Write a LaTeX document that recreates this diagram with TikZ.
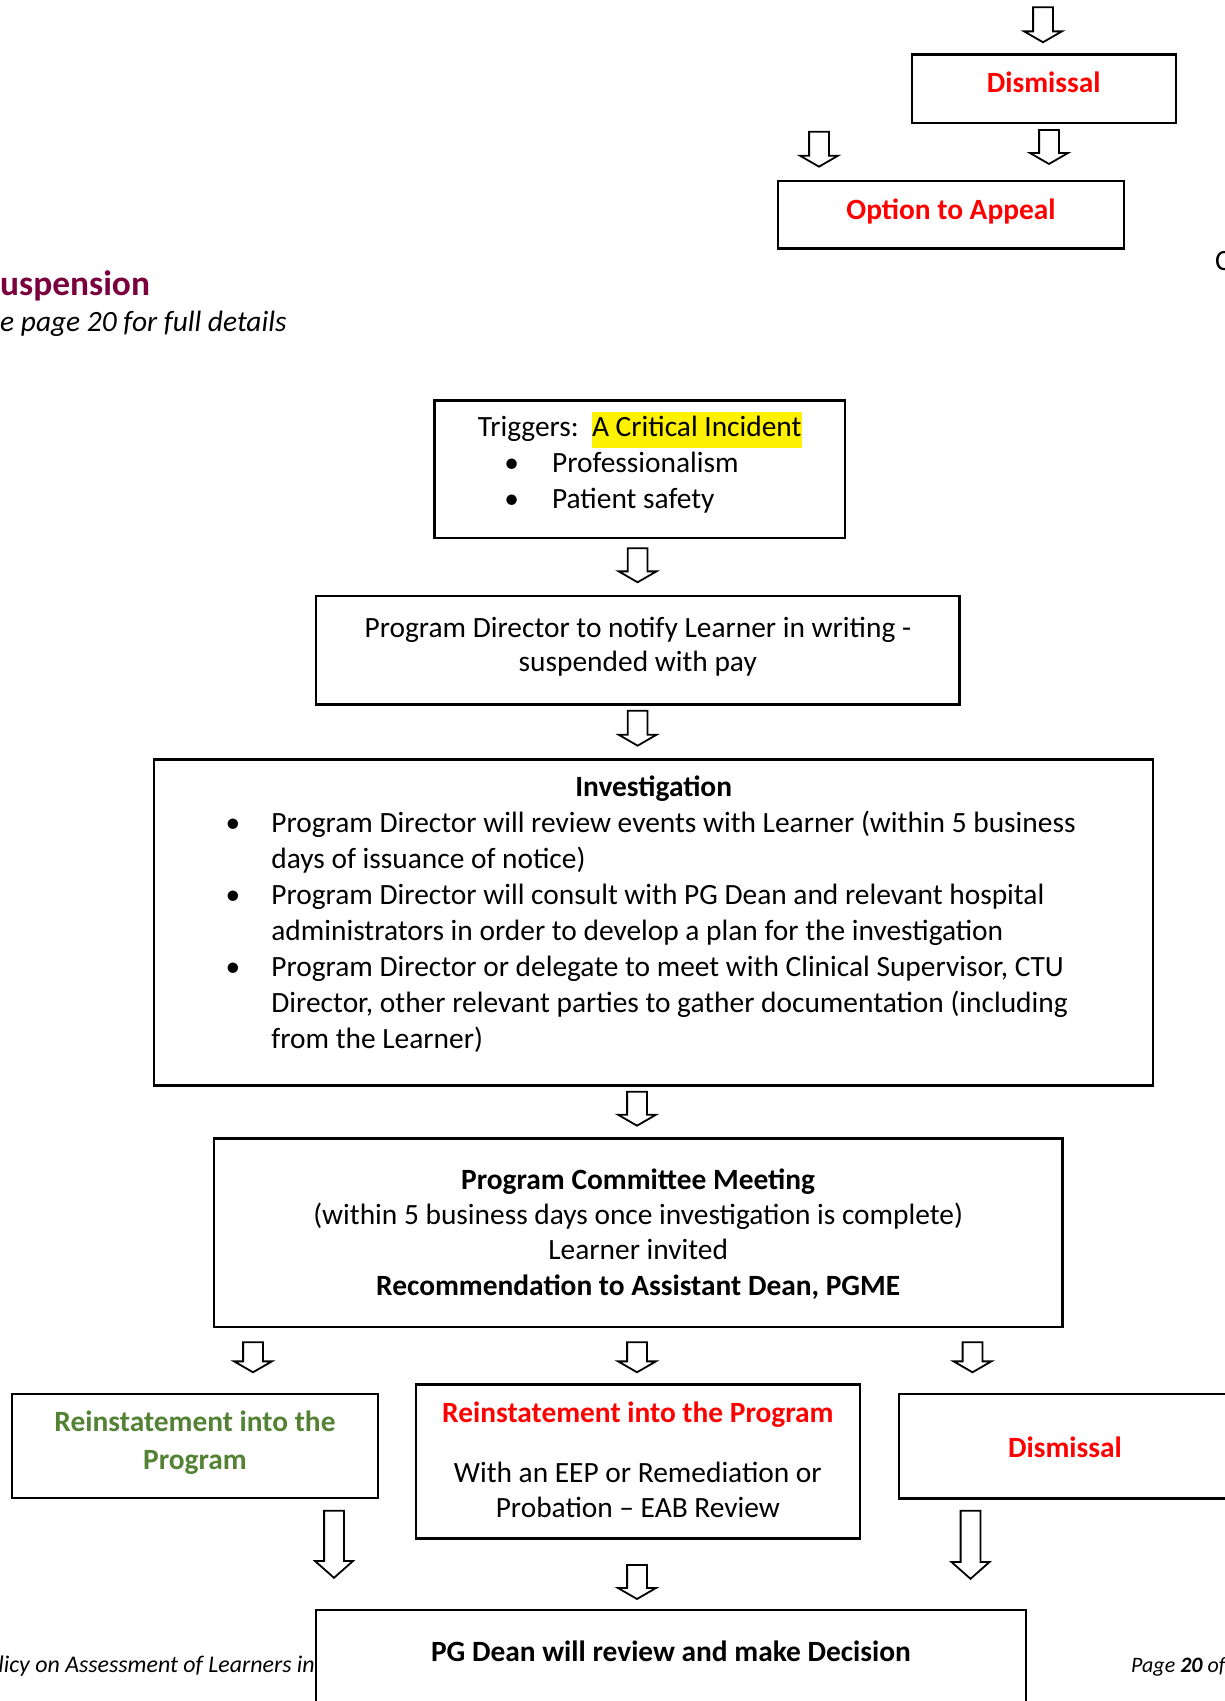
\documentclass[tikz,border=0pt]{standalone}
\usepackage{fontspec}
\setmainfont{Carlito}
\usepackage{tikz}
\usetikzlibrary{shapes.arrows}
\definecolor{alertred}{RGB}{255,0,0}
\definecolor{headmaroon}{RGB}{122,0,61}
\definecolor{keepgreen}{RGB}{84,130,53}
\setlength{\fboxsep}{0pt}

\begin{document}
\fontsize{29.4}{36}\selectfont
\begin{tikzpicture}[x=1pt,y=-1pt,
    box/.style={draw=black,line width=2.2pt,rectangle,inner sep=0pt},
    blockarrow/.style={draw=black,line width=1.8pt,single arrow,rotate=-90,anchor=tip,
      inner xsep=0pt,inner ysep=9pt,single arrow head extend=9pt,single arrow tip angle=120},
    longarrow/.style={blockarrow,single arrow tip angle=97},
    loose/.style={anchor=base west,inner sep=0pt}]
  \useasboundingbox (0,0) rectangle (1225,1701);

  \node[blockarrow,minimum height=35pt] (a0) at (1043,43.3) {};
  \node[box,anchor=north,text width=264pt,align=flush center,text height=38.4pt,text depth=30.3pt,
    text=alertred,font=\bfseries] (dis1) at (1043.7,53.3) {Dismissal};
  \node[blockarrow,minimum height=35pt] (a1) at (819,167.7) {};
  \node[blockarrow,minimum height=34pt] (a2) at (1049,165) {};
  \node[box,anchor=north,text width=346pt,align=flush center,text height=38.3pt,text depth=29pt,
    text=alertred,font=\bfseries] (appeal) at (951,180) {Option to Appeal};

  \node[loose,text=headmaroon,font=\fontsize{35.4}{41}\selectfont\bfseries] (title) at (0,295) {uspension};
  \node[loose,font=\itshape] (subtitle) at (0,331.5) {e page 20 for full details};
  \node[loose] (edge) at (1215,270) {C};

  \node[box,anchor=north west,text width=410.7pt,align=flush left,text height=36.4pt,text depth=101pt]
    (triggers) at (433.3,399.3) {%
    \hspace*{43.4pt}Triggers:\ \ \colorbox{yellow}{\strut A Critical Incident}\\
    \hspace*{70pt}\makebox[47.7pt][l]{\textbullet}Professionalism\\
    \hspace*{70pt}\makebox[47.7pt][l]{\textbullet}Patient safety};
  \node[blockarrow,minimum height=34pt] (a3) at (637.6,583.3) {};
  \node[box,anchor=north,text width=643.2pt,align=flush center,text height=41.7pt,text depth=66.6pt]
    (notify) at (637.8,595) {Program Director to notify Learner in writing -\\[-2pt]suspended with pay};
  \node[blockarrow,minimum height=35pt] (a4) at (637.6,746.7) {};

  \node[box,anchor=north west,text width=999.2pt,align=flush left,text height=36.7pt,text depth=289.3pt]
    (investigation) at (153,758.3) {%
    \hfill\textbf{Investigation}\hfill\null\\
    \hspace*{71.5pt}\makebox[45.8pt][l]{\textbullet}Program Director will review events with Learner (within 5 business\\
    \hspace*{117.3pt}days of issuance of notice)\\
    \hspace*{71.5pt}\makebox[45.8pt][l]{\textbullet}Program Director will consult with PG Dean and relevant hospital\\
    \hspace*{117.3pt}administrators in order to develop a plan for the investigation\\
    \hspace*{71.5pt}\makebox[45.8pt][l]{\textbullet}Program Director or delegate to meet with Clinical Supervisor, CTU\\
    \hspace*{117.3pt}Director, other relevant parties to gather documentation (including\\
    \hspace*{117.3pt}from the Learner)};
  \node[blockarrow,minimum height=34pt] (a5) at (637,1126.7) {};

  \node[box,anchor=north,text width=848.4pt,align=flush center,text height=51pt,text depth=137.7pt]
    (committee) at (638.2,1137.3) {\textbf{Program Committee Meeting}\\[-1pt]
    (within 5 business days once investigation is complete)\\[-1pt]
    Learner invited\\
    \textbf{Recommendation to Assistant Dean, PGME}};
  \node[blockarrow,minimum height=30pt] (a6) at (253,1373.3) {};
  \node[blockarrow,minimum height=30pt] (a7) at (637,1373.3) {};
  \node[blockarrow,minimum height=30pt] (a8) at (972.5,1373.3) {};

  \node[box,anchor=north,text width=366.6pt,align=flush center,text height=37.3pt,text depth=66.7pt,
    text=keepgreen,font=\bfseries] (reinstate) at (195,1392.7) {Reinstatement into the\\[2pt]Program};
  \node[box,anchor=north,text width=444.3pt,align=flush center,text height=38.4pt,text depth=115.6pt]
    (remediate) at (637.85,1383.3) {\textcolor{alertred}{\textbf{Reinstatement into the Program}}\\[24pt]
    With an EEP or Remediation or\\[-1pt]Probation – EAB Review};
  \node[box,anchor=north,text width=331.4pt,align=flush center,text height=63.3pt,text depth=41.3pt,
    text=alertred,font=\bfseries] (dis2) at (1065,1392.7) {Dismissal};
  \node[longarrow,minimum height=67pt] (b1) at (334,1579) {};
  \node[longarrow,minimum height=68pt] (b2) at (970.5,1580) {};
  \node[blockarrow,minimum height=34pt] (a9) at (637,1600) {};

  \node[box,anchor=north,text width=710pt,align=flush center,text height=51pt,text depth=60pt,
    font=\bfseries] (decision) at (671,1609) {PG Dean will review and make Decision};
  \node[anchor=base east,inner sep=0pt,font=\fontsize{23.9}{28}\selectfont\itshape] (footer) at (315,1672)
    {licy on Assessment of Learners in};
  \node[loose,font=\fontsize{22}{26}\selectfont\itshape] (pageno) at (1131,1672) {Page \textbf{20} of};
\end{tikzpicture}
\end{document}
